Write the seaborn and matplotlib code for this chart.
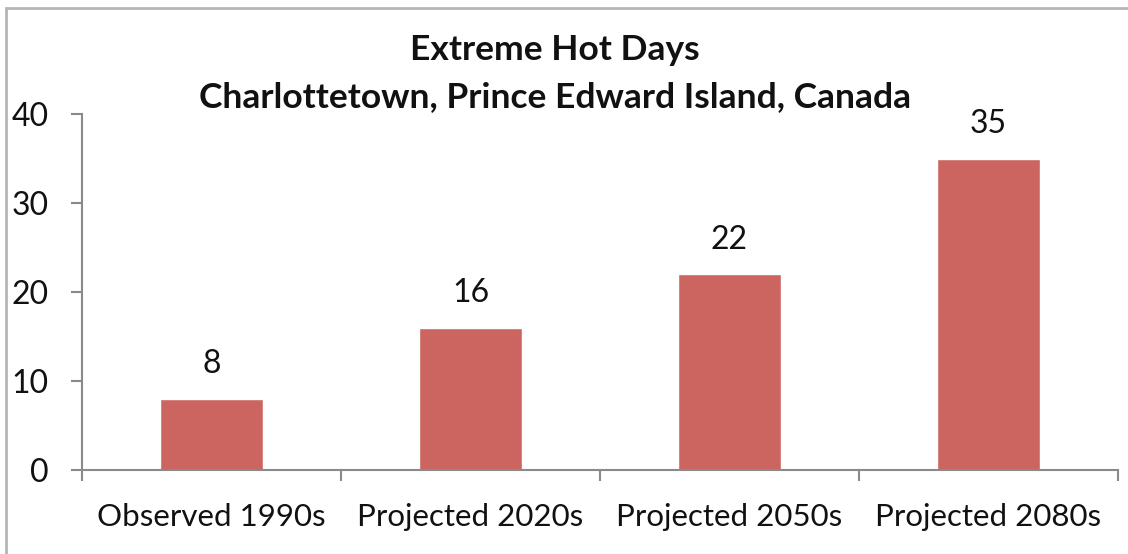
import pandas as pd
import matplotlib.pyplot as plt
import seaborn as sns
from matplotlib.patches import Rectangle
from matplotlib.container import BarContainer

# Dados do gráfico
periodos = ["Observed 1990s", "Projected 2020s", "Projected 2050s", "Projected 2080s"]
dias_quentes = [8, 16, 22, 35]
titulo_l1 = "Extreme Hot Days"
titulo_l2 = "Charlottetown, Prince Edward Island, Canada"

sns.set_theme(style="white")
plt.rcParams['font.family'] = ['Lato', 'DejaVu Sans']

df = pd.DataFrame({"periodo": periodos, "dias": dias_quentes})

fig = plt.figure(figsize=(11.28, 5.54), dpi=100)
ax = fig.add_axes([82 / 1128, 84 / 554, 1036 / 1128, 356 / 554])

sns.barplot(data=df, x="periodo", y="dias", order=periodos, color="#CC6560",
            saturation=1, width=0.4, ax=ax)

for container in ax.containers:
    if isinstance(container, BarContainer):
        ax.bar_label(container, fmt='%d', padding=14, fontsize=23, color="#111111")

ax.set_xlim(-0.5, 3.5)
ax.set_ylim(0, 40)
ax.set_yticks([0, 10, 20, 30, 40])
ax.set_xlabel("")
ax.set_ylabel("")

grey = "#8a8a8a"
for side in ["top", "right"]:
    ax.spines[side].set_visible(False)
for side in ["left", "bottom"]:
    ax.spines[side].set_color(grey)
    ax.spines[side].set_linewidth(1.5)

ax.tick_params(axis="y", length=8, width=1.5, color=grey, direction="out",
               pad=16, labelsize=23, labelcolor="#111111", left=True)
ax.set_xticks([-0.5, 0.5, 1.5, 2.5, 3.5], minor=True)
ax.tick_params(axis="x", which="major", length=0, pad=24, labelsize=22.5, labelcolor="#111111")
ax.tick_params(axis="x", which="minor", length=8, width=1.5, color=grey, direction="out", bottom=True)

# Título em duas linhas
fig.text(555 / 1128, 1 - 50 / 554, titulo_l1, ha="center", va="center",
         fontsize=25.5, fontweight="bold", color="#111111")
fig.text(555 / 1128, 1 - 97 / 554, titulo_l2, ha="center", va="center",
         fontsize=25.5, fontweight="bold", color="#111111")

# Moldura do gráfico (cortada à direita e em baixo)
fig.patches.append(Rectangle((6 / 1128, -0.5), 2, 0.5 + (1 - 8 / 554), transform=fig.transFigure,
                             fill=False, edgecolor="#b5b5b5", linewidth=2, clip_on=False))

fig.savefig("out.png", dpi=100)
plt.close(fig)
